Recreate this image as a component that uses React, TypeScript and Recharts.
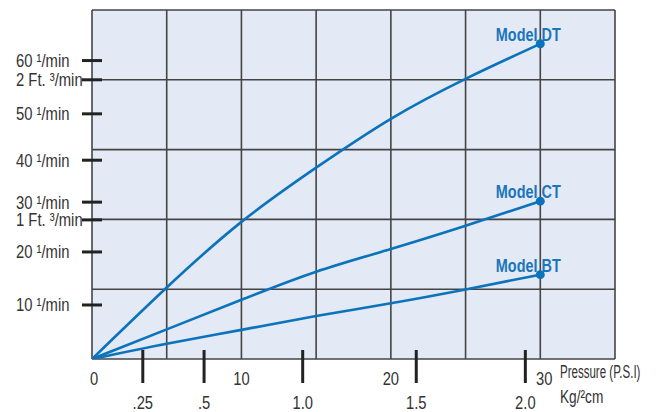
import React from "react";
import { LineChart, Line, XAxis, YAxis, CartesianGrid } from "recharts";

// Pressure in P.S.I. at sampled points
const pressurePsi = [0, 5, 10, 15, 20, 25, 30];
// Flow (l/min) per model
const modelDT = [0, 14.5, 27.8, 38.8, 48.7, 56.8, 63.9];
const modelCT = [0, 6.0, 12.0, 17.7, 22.3, 27.0, 32.0];
const modelBT = [0, 3.1, 5.9, 8.7, 11.3, 14.1, 17.1];
const seriesNames = ["Model DT", "Model CT", "Model BT"];

// Left axis ticks (value on the flow axis as drawn) and their labels
const yTickValues = [10.95, 21.7, 28.2, 31.8, 40.3, 49.7, 56.6, 60.5];
const yTickLabels = [
  "10 ¹/min",
  "20 ¹/min",
  "1 Ft. ³/min",
  "30 ¹/min",
  "40 ¹/min",
  "50 ¹/min",
  "2 Ft. ³/min",
  "60 ¹/min",
];

// Bottom axis: P.S.I. labels
const psiTicks = [0, 10, 20, 30];
const psiLabels = ["0", "10", "20", "30"];

// Bottom axis: Kg/cm² ticks located on the P.S.I. scale
const kgTickPsi = [3.4, 7.5, 14.1, 21.7, 29.0];
const kgLabels = [".25", ".5", "1.0", "1.5", "2.0"];

// Grid
const gridFlowValues = [0, 14.15, 28.3, 42.45, 56.6, 70.75];
const gridPsiValues = [0, 5, 10, 15, 20, 25, 30, 35];

const data = pressurePsi.map((p, i) => ({
  psi: p,
  dt: modelDT[i],
  ct: modelCT[i],
  bt: modelBT[i],
}));

const FONT = '"Liberation Sans", Arial, sans-serif';
const BLUE = "#0b73bb";
const TEXT = "#333333";

const NarrowText = (props: any) => {
  const { x, y, sx = 0.8, children, ...rest } = props;
  return (
    <text transform={`translate(${x},${y}) scale(${sx},1)`} x={0} y={0} fontFamily={FONT} {...rest}>
      {children}
    </text>
  );
};

const YTick = (props: any) => {
  const { x, y, payload } = props;
  const idx = yTickValues.indexOf(payload.value);
  const label = idx >= 0 ? yTickLabels[idx] : "";
  return (
    <g>
      <line x1={x - 10} x2={x + 10} y1={y} y2={y} stroke="#222" strokeWidth={3} />
      <NarrowText x={16} y={y + 6.5} fontSize={19} fill={TEXT} textAnchor="start" sx={0.78}>
        {label}
      </NarrowText>
    </g>
  );
};

const PsiTick = (props: any) => {
  const { x, y, payload } = props;
  const idx = psiTicks.indexOf(payload.value);
  const dx = payload.value === 30 ? 4 : payload.value === 0 ? 2 : 0;
  return (
    <NarrowText x={x + dx} y={y + 26} fontSize={18} fill={TEXT} textAnchor="middle" sx={0.82}>
      {idx >= 0 ? psiLabels[idx] : ""}
    </NarrowText>
  );
};

const KgTick = (props: any) => {
  const { x, y, payload } = props;
  const idx = kgTickPsi.indexOf(payload.value);
  return (
    <g>
      <line x1={x} x2={x} y1={y - 31} y2={y + 2} stroke="#222" strokeWidth={3} />
      <NarrowText x={x} y={y + 28} fontSize={18} fill={TEXT} textAnchor="middle" sx={0.82}>
        {idx >= 0 ? kgLabels[idx] : ""}
      </NarrowText>
    </g>
  );
};

const AxisNote = (props: any) => {
  const vb = props.viewBox || { x: 0, y: 0, width: 0, height: 0 };
  const x0 = vb.x + vb.width - 55;
  return (
    <g>
      <NarrowText x={x0} y={vb.y + 19} fontSize={18} fill={TEXT} sx={0.64}>
        Pressure (P.S.I)
      </NarrowText>
      <NarrowText x={x0} y={vb.y + 44} fontSize={18} fill={TEXT} sx={0.76}>
        Kg/²cm
      </NarrowText>
    </g>
  );
};

const makeEndDot = (name: string) => (props: any) => {
  const { cx, cy, index } = props;
  if (index !== data.length - 1) return <g key={`d-${name}-${index}`} />;
  return (
    <g key={`d-${name}-${index}`}>
      <circle cx={cx} cy={cy} r={4.5} fill={BLUE} />
      <NarrowText
        x={cx - 12}
        y={cy - 3}
        textAnchor="middle"
        fontWeight="bold"
        fontSize={19}
        fill="#1a75bc"
        sx={0.76}
      >
        {name}
      </NarrowText>
    </g>
  );
};

export default function App() {
  return (
    <div style={{ position: "absolute", left: 0, top: 0, width: 660, height: 412 }}>
      <LineChart
        width={660}
        height={412}
        data={data}
        margin={{ top: 10, right: 45, left: 0, bottom: 0 }}
      >
        <CartesianGrid
          horizontalValues={gridFlowValues}
          verticalValues={gridPsiValues}
          stroke="#444"
          strokeWidth={1.6}
          fill="#e3e9f5"
          fillOpacity={1}
        />
        <XAxis
          dataKey="psi"
          type="number"
          domain={[0, 35]}
          allowDataOverflow
          ticks={psiTicks}
          interval={0}
          tick={<PsiTick />}
          tickLine={false}
          axisLine={false}
          tickSize={0}
          tickMargin={0}
          height={22}
          label={<AxisNote />}
        />
        <XAxis
          xAxisId="kg"
          dataKey="psi"
          type="number"
          domain={[0, 35]}
          allowDataOverflow
          ticks={kgTickPsi}
          interval={0}
          tick={<KgTick />}
          tickLine={false}
          axisLine={false}
          tickSize={0}
          tickMargin={0}
          height={31}
        />
        <YAxis
          type="number"
          domain={[0, 70.75]}
          allowDataOverflow
          ticks={yTickValues}
          interval={0}
          tick={<YTick />}
          tickLine={false}
          axisLine={false}
          tickSize={0}
          tickMargin={0}
          width={92}
        />
        <Line
          type="natural"
          dataKey="dt"
          name={seriesNames[0]}
          stroke={BLUE}
          strokeWidth={2.6}
          dot={makeEndDot(seriesNames[0])}
          activeDot={false}
          isAnimationActive={false}
        />
        <Line
          type="natural"
          dataKey="ct"
          name={seriesNames[1]}
          stroke={BLUE}
          strokeWidth={2.6}
          dot={makeEndDot(seriesNames[1])}
          activeDot={false}
          isAnimationActive={false}
        />
        <Line
          type="natural"
          dataKey="bt"
          name={seriesNames[2]}
          stroke={BLUE}
          strokeWidth={2.6}
          dot={makeEndDot(seriesNames[2])}
          activeDot={false}
          isAnimationActive={false}
        />
      </LineChart>
    </div>
  );
}
